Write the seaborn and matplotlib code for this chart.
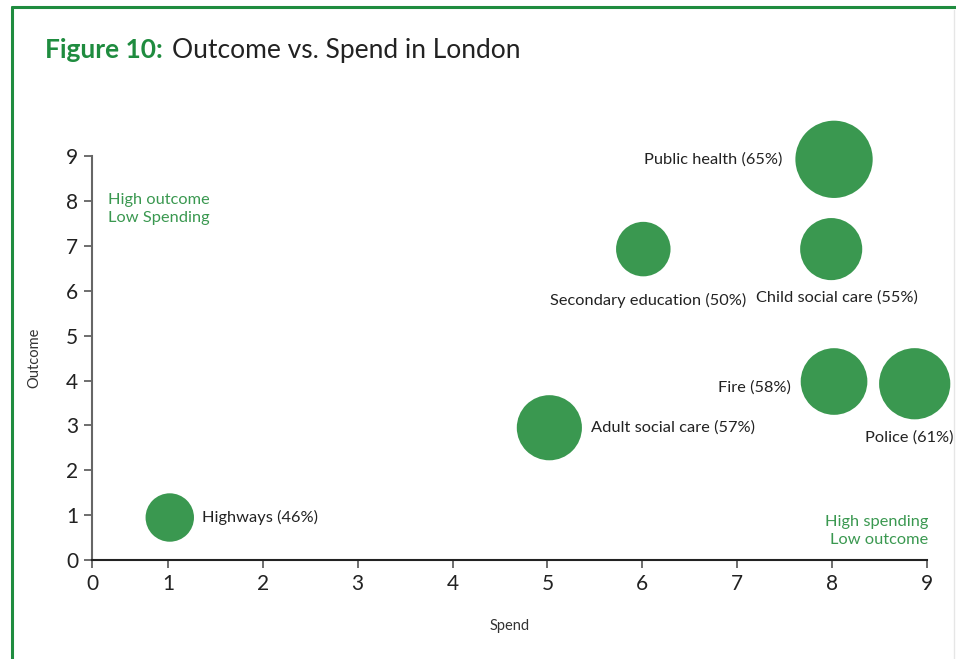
import seaborn as sns
import matplotlib.pyplot as plt
import pandas as pd
from matplotlib.lines import Line2D

services = ['Highways', 'Adult social care', 'Secondary education', 'Child social care',
            'Public health', 'Fire', 'Police']
spend = [1.02, 5.02, 6.01, 7.99, 8.02, 8.02, 8.87]
outcome = [0.95, 2.95, 6.93, 6.93, 8.93, 3.98, 3.93]
share = [46, 57, 50, 55, 65, 58, 61]
tick_labels = ['0', '1', '2', '3', '4', '5', '6', '7', '8', '9']

df = pd.DataFrame({'service': services, 'spend': spend, 'outcome': outcome, 'share': share})
df['label'] = df['service'] + ' (' + df['share'].astype(str) + '%)'

GREEN = '#3a9850'
BORDER = '#1f8c3f'

sns.set_theme(style='white')
plt.rcParams['font.family'] = ['Lato', 'DejaVu Sans']

fig = plt.figure(figsize=(9.56, 6.59), dpi=100)
ax = fig.add_axes([0.0962, 0.150, 0.8735, 0.613])

# bubble diameter grows linearly with share (px -> pt)
sizes = {s: ((1.52 * s - 21.5) * 0.72) ** 2 for s in share}
sns.scatterplot(data=df, x='spend', y='outcome', size='share', sizes=sizes,
                color=GREEN, edgecolor='none', alpha=1, legend=False, ax=ax, clip_on=False)

# label placement: (dx, dy) in points, ha
offsets = {
    'Highways': (23, 0, 'left'),
    'Adult social care': (30, 0, 'left'),
    'Secondary education': (-67, -37, 'left'),
    'Child social care': (-54, -35, 'left'),
    'Public health': (-37, 0, 'right'),
    'Fire': (-31, -4, 'right'),
    'Police': (-36, -39, 'left'),
}
for _, r in df.iterrows():
    dx, dy, ha = offsets[r['service']]
    ax.annotate(r['label'], (r['spend'], r['outcome']), xytext=(dx, dy),
                textcoords='offset points', ha=ha, va='center', fontsize=11.8, color='#222222')

ax.text(0.9, 7.83, 'High outcome\nLow Spending', ha='center', va='center',
        color=GREEN, fontsize=11.8, linespacing=1.35)
ax.text(9.01, 0.64, 'High spending\nLow outcome', ha='right', va='center',
        color=GREEN, fontsize=11.8, linespacing=1.35)

# the original axis starts a little right of zero but labels that spot "0"
ax.set_xlim(0.2, 9)
ax.set_ylim(0, 9)
ax.set_xticks([0.2, 1, 2, 3, 4, 5, 6, 7, 8, 9])
ax.set_xticklabels(tick_labels)
ax.set_yticks(range(10))
ax.set_yticklabels(tick_labels)
ax.tick_params(axis='both', direction='out', length=6, width=1.2, colors='#555555',
               labelsize=15, labelcolor='#222222', left=True, bottom=True, pad=4)
for side in ['top', 'right']:
    ax.spines[side].set_visible(False)
ax.spines['left'].set_color('#666666')
ax.spines['left'].set_linewidth(1.5)
ax.spines['bottom'].set_color('#222222')
ax.spines['bottom'].set_linewidth(1.5)
ax.set_xlabel('Spend', fontsize=10.5, color='#333333', labelpad=18)
ax.set_ylabel('Outcome', fontsize=10.5, color='#333333', labelpad=18)

fig.text(0.047, 0.924, 'Figure 10:', fontsize=19, fontweight='bold', color=BORDER, va='center')
fig.text(0.180, 0.924, 'Outcome vs. Spend in London', fontsize=19, color='#222222', va='center')

# green frame on left and top, faint grey on right
fig.add_artist(Line2D([0.0128, 0.0128], [0, 0.989], transform=fig.transFigure, color=BORDER, lw=2.2))
fig.add_artist(Line2D([0.0128, 1.0], [0.989, 0.989], transform=fig.transFigure, color=BORDER, lw=2.2))
fig.add_artist(Line2D([0.998, 0.998], [0, 0.985], transform=fig.transFigure, color='#e6e6e6', lw=1))

fig.savefig('out.png', dpi=100)
